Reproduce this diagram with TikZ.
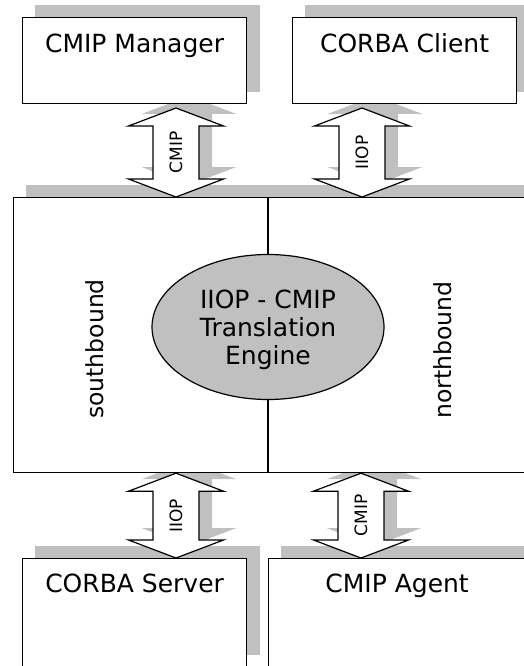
\documentclass[tikz,border=0pt]{standalone}
\usepackage{fontspec}
\setmainfont{DejaVu Sans}
\usetikzlibrary{shapes.geometric,calc,backgrounds}
\definecolor{shadowgray}{HTML}{C0C0C0}

\begin{document}
\begin{tikzpicture}[
            x=1pt, y=-1pt,
            box/.style={draw, fill=white, line width=1.2pt, anchor=north west, inner sep=0pt,
                minimum width=224pt, text height=35pt, text depth=51pt, font=\fontsize{25}{30}\selectfont},
            lowbox/.style={box, text height=34pt, text depth=74pt},
            iface/.style={to path={(\tikztostart) -- ++(47.5,18) -- ++(-24.5,0)
                -- ($(\tikztotarget)+(23,-18)$) -- ++(24.5,0) -- (\tikztotarget)
                -- ++(-47.5,-18) -- ++(24.5,0) -- ($(\tikztostart)+(-23,18)$) -- ++(-24.5,0) -- cycle}},
            dblarrow/.style={iface, draw, fill=white, line width=1.2pt},
            shadowfill/.style={iface, fill=shadowgray, draw=none},
            tag/.style={rotate=90, inner sep=0pt, font=\fontsize{17}{20}\selectfont},
            side/.style={rotate=90, inner sep=0pt, font=\fontsize{23.5}{28}\selectfont}
        ]
            \useasboundingbox (0,0) rectangle (523,666);

            % Boxes
            \node[box] (mgr) at (22,17) {CMIP Manager};
            \node[box] (cli) at (292,17) {CORBA Client};
            \node[draw, fill=white, line width=1.2pt, anchor=north west, inner sep=0pt,
                minimum width=512pt, minimum height=275pt] (mid) at (13,197) {};
            \node[lowbox] (srv) at (22,558) {CORBA Server};
            \node[lowbox, minimum width=257pt] (agt) at (268,558) {CMIP Agent};

            % Engine
            \node[ellipse, draw, fill=shadowgray, line width=1.2pt, inner sep=0pt,
                minimum width=232pt, minimum height=145pt] (engine) at (268,327) {};
            \node[align=center, inner sep=0pt, font=\fontsize{25}{28.3}\selectfont]
                (engtext) at ([yshift=-3pt]engine.center) {IIOP - CMIP\\Translation\\Engine};
            \draw[line width=1.2pt] (engine.north) -- (engine.north |- mid.north);
            \draw[line width=1.2pt] (engine.south) -- (engine.south |- mid.south);

            \node[side] (south) at (95,349) {southbound};
            \node[side] (north) at (443,350) {northbound};

            % Interfaces
            \coordinate (a1t) at (176,108);
            \coordinate (a1b) at (mid.north -| a1t);
            \coordinate (a2t) at (362,108);
            \coordinate (a2b) at (mid.north -| a2t);
            \coordinate (a3t) at (mid.south -| 176,0);
            \coordinate (a3b) at (srv.north -| a3t);
            \coordinate (a4t) at (mid.south -| 361,0);
            \coordinate (a4b) at (agt.north -| a4t);

            \draw[dblarrow] (a1t) to (a1b);
            \draw[dblarrow] (a2t) to (a2b);
            \draw[dblarrow] (a3t) to (a3b);
            \draw[dblarrow] (a4t) to (a4b);

            \node[tag] at ($(a1t)!0.5!(a1b)$) {CMIP};
            \node[tag] at ($(a2t)!0.5!(a2b)$) {IIOP};
            \node[tag] at ($(a3t)!0.5!(a3b)$) {IIOP};
            \node[tag] at ($(a4t)!0.5!(a4b)$) {CMIP};

            % Shadows
            \begin{scope}[on background layer]
                \foreach \n in {mgr,cli,mid,srv,agt}
                    \fill[shadowgray] ([xshift=13pt,yshift=12pt]\n.south west) rectangle ([xshift=13pt,yshift=12pt]\n.north east);
                \foreach \a in {a1,a2,a3,a4}
                    \path[shadowfill, transform canvas={xshift=13pt,yshift=12pt}] (\a t) to (\a b);
            \end{scope}
        \end{tikzpicture}
\end{document}
